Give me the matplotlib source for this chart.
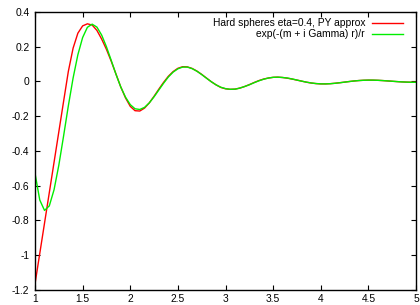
#!/usr/bin/python3

import numpy as np
import matplotlib
matplotlib.use("Agg")
import matplotlib.pyplot as plt
from matplotlib.ticker import FormatStrFormatter

# sample positions r (step 0.05 from 1 to 5)
r = np.linspace(1.0, 5.0, 81)

h_py = [
    -1.165, -0.990, -0.815, -0.640, -0.465, -0.290, -0.115, 0.058, 0.192, 0.278,
    0.320, 0.332, 0.325, 0.294, 0.244, 0.185, 0.117, 0.043, -0.031, -0.094,
    -0.143, -0.168, -0.170, -0.153, -0.123, -0.085, -0.044, -0.005, 0.030, 0.057,
    0.076, 0.085, 0.084, 0.075, 0.060, 0.041, 0.020, -0.001, -0.019, -0.034,
    -0.042, -0.045, -0.044, -0.038, -0.029, -0.018, -0.006, 0.005, 0.014, 0.020,
    0.024, 0.025, 0.023, 0.019, 0.014, 0.008, 0.002, -0.004, -0.0088, -0.012,
    -0.0137, -0.0138, -0.0125, -0.0101, -0.0070, -0.0035, 0.0000, 0.0031, 0.0055, 0.0071,
    0.0079, 0.0077, 0.0068, 0.0053, 0.0034, 0.0014, -0.0005, -0.0022, -0.0034, -0.0042,
    -0.0045,
]

h_fit = [
    -0.528, -0.682, -0.742, -0.716, -0.623, -0.482, -0.314, -0.140, 0.020, 0.154,
    0.253, 0.312, 0.330, 0.313, 0.267, 0.200, 0.122, 0.042, -0.031, -0.090,
    -0.133, -0.157, -0.161, -0.149, -0.123, -0.088, -0.049, -0.010, 0.026, 0.054,
    0.073, 0.083, 0.083, 0.074, 0.059, 0.040, 0.019, -0.001, -0.019, -0.033,
    -0.041, -0.045, -0.044, -0.038, -0.029, -0.019, -0.007, 0.004, 0.013, 0.020,
    0.024, 0.025, 0.023, 0.020, 0.0145, 0.0084, 0.0021, -0.0037, -0.0084, -0.0118,
    -0.0136, -0.0139, -0.0127, -0.0103, -0.0072, -0.0037, -0.0002, 0.0030, 0.0054, 0.0071,
    0.0079, 0.0078, 0.0069, 0.0054, 0.0035, 0.0015, -0.0005, -0.0022, -0.0035, -0.0043,
    -0.0046,
]

labels = ["Hard spheres eta=0.4, PY approx", "exp(-(m + i Gamma) r)/r"]
xticks = [1, 1.5, 2, 2.5, 3, 3.5, 4, 4.5, 5]
yticks = [-1.2, -1, -0.8, -0.6, -0.4, -0.2, 0, 0.2, 0.4]

plt.rcParams["font.family"] = ["Liberation Sans", "DejaVu Sans"]
plt.rcParams["font.size"] = 7.4


def plot_hs():
    fig = plt.figure(figsize=(4.2, 3.05), dpi=100)
    ax = fig.add_axes([35 / 420, 1 - 290 / 305, 381 / 420, 278 / 305])
    ax.plot(r, h_py, color="#ff0000", lw=1.0, label=labels[0])
    ax.plot(r, h_fit, color="#00ee00", lw=1.0, label=labels[1])
    ax.set_xlim(1, 5)
    ax.set_ylim(-1.2, 0.4)
    ax.set_xticks(xticks)
    ax.set_yticks(yticks)
    ax.xaxis.set_major_formatter(FormatStrFormatter("%g"))
    ax.yaxis.set_major_formatter(FormatStrFormatter("%g"))
    ax.tick_params(direction="in", top=True, right=True, length=3.5, width=0.8,
                   labelsize=7.4)
    ax.tick_params(axis="y", pad=4)
    ax.tick_params(axis="x", pad=3)
    for s in ax.spines.values():
        s.set_linewidth(1.0)
    ax.legend(loc="upper right", bbox_to_anchor=(0.966, 0.978), frameon=False,
              markerfirst=False, handlelength=3.0, handletextpad=0.7,
              labelspacing=0.1, borderpad=0, borderaxespad=0, fontsize=7.4)
    fig.savefig("out.png", dpi=100)


if __name__ == "__main__":
    plot_hs()
